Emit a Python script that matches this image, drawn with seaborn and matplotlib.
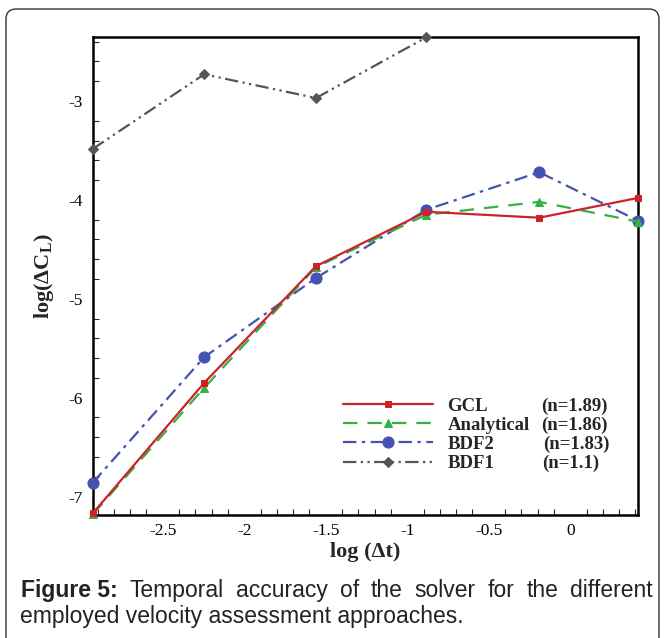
import matplotlib
matplotlib.use("Agg")
import matplotlib.pyplot as plt
import seaborn as sns
import pandas as pd
from matplotlib.patches import FancyBboxPatch
from matplotlib.transforms import IdentityTransform
from matplotlib.ticker import MultipleLocator

# ---- data ----
log_dt = [-2.93, -2.246, -1.56, -0.883, -0.19, 0.416]
gcl = [-7.17, -5.85, -4.67, -4.12, -4.18, -3.98]
analytical = [-7.18, -5.90, -4.68, -4.15, -4.02, -4.22]
bdf2 = [-6.86, -5.59, -4.79, -4.10, -3.72, -4.21]
log_dt_bdf1 = [-2.93, -2.246, -1.56, -0.883]
bdf1 = [-3.485, -2.73, -2.97, -2.356]
series_names = ["GCL", "Analytical", "BDF2", "BDF1"]
orders = ["(n=1.89)", "(n=1.86)", "(n=1.83)", "(n=1.1)"]
x_ticks = [-2.5, -2, -1.5, -1, -0.5, 0]
x_tick_labels = ["-2.5", "-2", "-1.5", "-1", "-0.5", "0"]
y_ticks = [-7, -6, -5, -4, -3]
y_tick_labels = ["-7", "-6", "-5", "-4", "-3"]
caption_bold = "Figure 5:"
caption_line1 = "Temporal accuracy of the solver for the different"
caption_line2 = "employed velocity assessment approaches."

sns.set_theme(style="white")
plt.rcParams["font.family"] = ["Liberation Serif", "DejaVu Serif"]
plt.rcParams["axes.unicode_minus"] = False
plt.rcParams["mathtext.fontset"] = "custom"
plt.rcParams["mathtext.rm"] = "Liberation Serif:bold"

W, H = 664, 638
fig = plt.figure(figsize=(W / 100, H / 100), dpi=100)
fig.patch.set_facecolor("white")

ax_l, ax_r, ax_t, ax_b = 92.7, 638.0, 37.3, 515.0
ax = fig.add_axes([ax_l / W, 1 - ax_b / H, (ax_r - ax_l) / W, (ax_b - ax_t) / H])

styles = {
    "GCL": dict(color="#cc2229", marker="s", ms=5, ls="-", lw=1.6, z=6),
    "Analytical": dict(color="#35b045", marker="^", ms=6, ls=(0, (6.5, 4.5)), lw=1.6, z=5),
    "BDF2": dict(color="#4453b0", marker="o", ms=8, ls=(0, (6, 2.5, 1.5, 2.5)), lw=1.6, z=4),
    "BDF1": dict(color="#555555", marker="D", ms=5.5, ls=(0, (6, 2, 1, 2, 1, 2)), lw=1.6, z=3),
}
data = {
    "GCL": (log_dt, gcl),
    "Analytical": (log_dt, analytical),
    "BDF2": (log_dt, bdf2),
    "BDF1": (log_dt_bdf1, bdf1),
}

handles = {}
for name in ["BDF1", "BDF2", "Analytical", "GCL"]:
    xs, ys = data[name]
    st = styles[name]
    df = pd.DataFrame({"x": xs, "y": ys})
    n_before = len(ax.lines)
    sns.lineplot(data=df, x="x", y="y", ax=ax, color=st["color"], marker=st["marker"],
                 markersize=st["ms"], markeredgecolor=st["color"], markerfacecolor=st["color"],
                 linestyle=st["ls"], linewidth=st["lw"], zorder=st["z"], clip_on=False,
                 label=name, legend=False)
    handles[name] = ax.lines[n_before]

ax.set_xlim(-2.93, 0.416)
ax.set_ylim(-7.186, -2.356)

ax.set_xticks(x_ticks, x_tick_labels)
ax.set_yticks(y_ticks, y_tick_labels)
ax.xaxis.set_minor_locator(MultipleLocator(0.1))
ax.yaxis.set_minor_locator(MultipleLocator(0.2))
ax.tick_params(axis="both", which="major", direction="in", length=8, width=1.6,
               labelsize=12.5, colors="black", top=False, right=False)
ax.tick_params(axis="both", which="minor", direction="in", length=4, width=0.8,
               top=False, right=False, bottom=True, left=True)
ax.tick_params(axis="x", which="major", pad=6)
ax.tick_params(axis="y", which="major", pad=7)
for sp in ax.spines.values():
    sp.set_visible(True)
    sp.set_color("black")
    sp.set_linewidth(1.8)

ax.set_xlabel("log (Δt)", fontsize=16, fontweight="bold", labelpad=2)
ax.set_ylabel(r"log(ΔC$_\mathrm{L}$)", fontsize=16, fontweight="bold", labelpad=9)

leg = ax.legend([handles[n] for n in series_names], series_names,
                loc="upper left", bbox_to_anchor=(342.5 / W, 1 - 397.5 / H),
                bbox_transform=fig.transFigure, frameon=False, borderpad=0,
                borderaxespad=0, handlelength=4.8, handletextpad=0.8,
                labelspacing=0.11, numpoints=1,
                prop={"family": "Liberation Serif", "weight": "bold", "size": 13.5})

row_y = [406.5, 425.0, 444.6, 463.0]
row_x = [541, 541, 543, 542]
for txt, px, py in zip(orders, row_x, row_y):
    fig.text(px / W, 1 - py / H, txt, ha="left", va="center",
             fontsize=13.5, fontweight="bold", family="Liberation Serif")

# outer rounded frame
frame = FancyBboxPatch((6, -20), 653, 638 - 9 + 20, boxstyle="round,pad=0,rounding_size=10",
                       transform=IdentityTransform(), facecolor="none",
                       edgecolor="#333333", linewidth=1.0)
fig.patches.append(frame)

# caption (first line justified between x=21 and x=653)
cap_font = ["Liberation Sans", "DejaVu Sans"]
cap_size = 16.5
cap_col = "#222222"
fig.canvas.draw()
renderer = fig.canvas.get_renderer()
words = [(caption_bold, "bold")] + [(w, "normal") for w in caption_line1.split()]
items = []
for w, wt in words:
    t = fig.text(0, 1 - 597 / H, w, ha="left", va="baseline", fontsize=cap_size,
                 fontweight=wt, family=cap_font, color=cap_col)
    items.append(t)
widths = [t.get_window_extent(renderer).width for t in items]
x0, x1 = 21.0, 653.0
gap = (x1 - x0 - sum(widths)) / (len(items) - 1)
xc = x0
for t, wd in zip(items, widths):
    t.set_x(xc / W)
    xc += wd + gap
fig.text(20 / W, 1 - 623 / H, caption_line2, ha="left", va="baseline",
         fontsize=cap_size, family=cap_font, color=cap_col)

fig.savefig("out.png", dpi=100, facecolor="white")
